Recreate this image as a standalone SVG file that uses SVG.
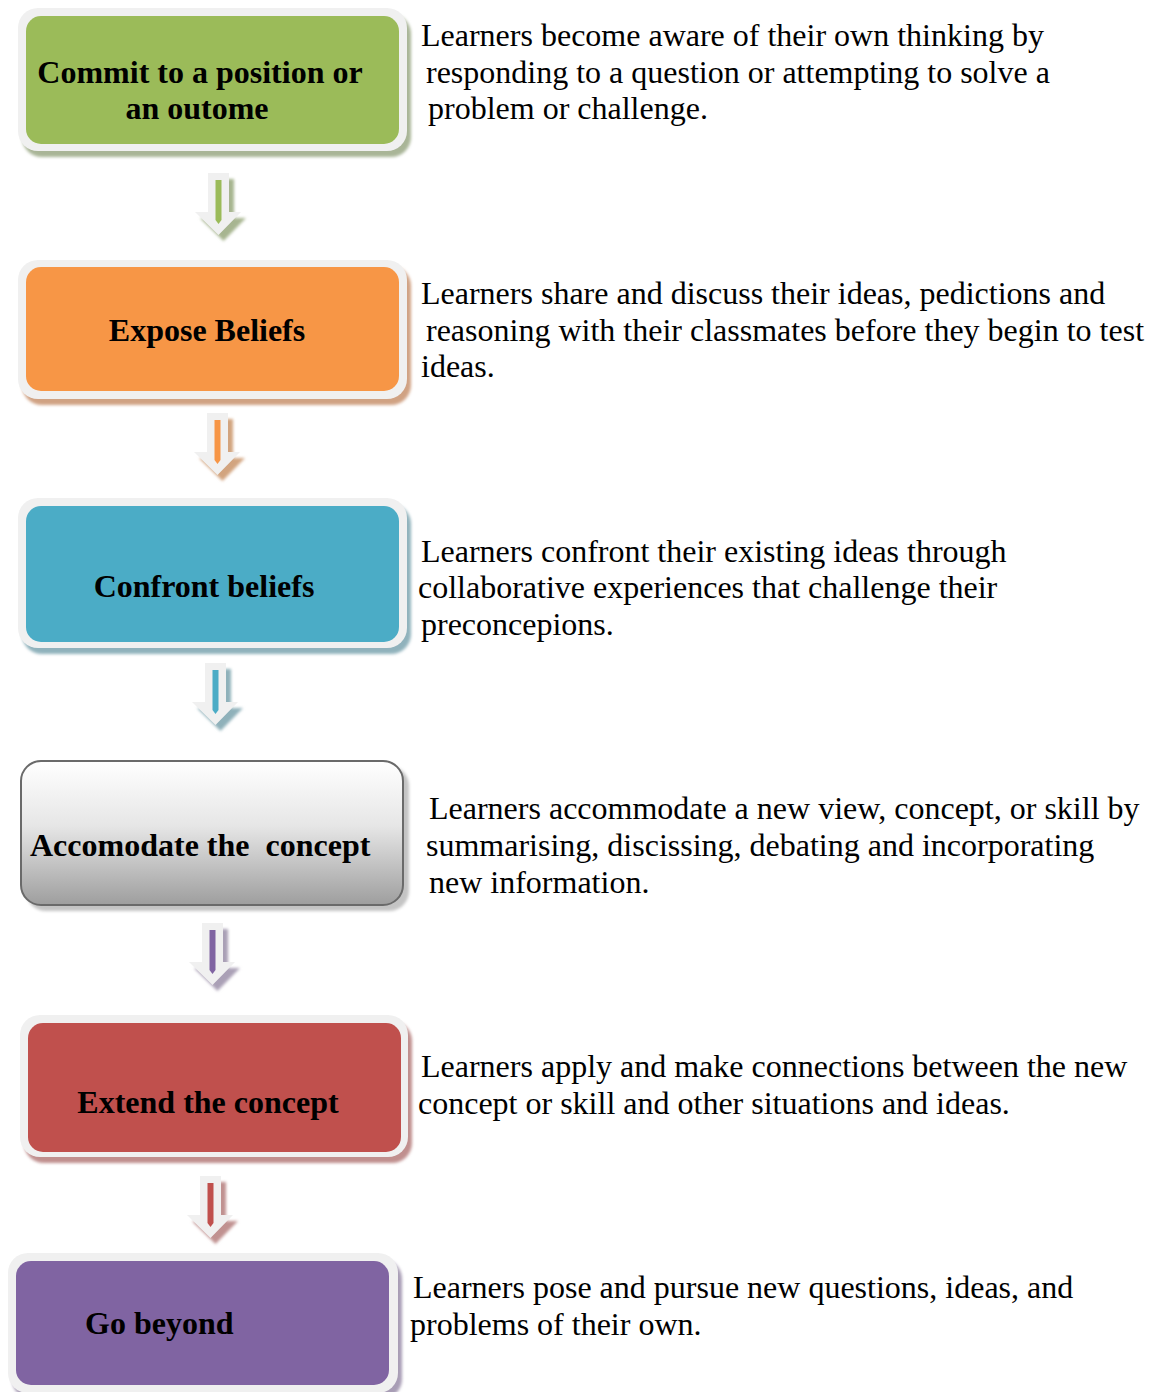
<svg xmlns="http://www.w3.org/2000/svg" width="1155" height="1392" viewBox="0 0 1155 1392">
  <defs>
    <style>
      .frame { fill: #f0f0f0; }
      .label { font-family: "Liberation Serif", "Times New Roman", serif; font-weight: bold; font-size: 32px; fill: #000; white-space: pre; }
      .desc { font-family: "Liberation Serif", "Times New Roman", serif; font-size: 32px; fill: #000; white-space: pre; }
      .arrow-body { fill: #f0f0f0; }
    </style>
    <linearGradient id="grayFill" x1="0" y1="0" x2="0" y2="1">
      <stop offset="0" stop-color="#ffffff"/>
      <stop offset="0.45" stop-color="#e6e6e6"/>
      <stop offset="1" stop-color="#9e9e9e"/>
    </linearGradient>
    <filter id="soft" x="-10%" y="-10%" width="120%" height="120%">
      <feGaussianBlur stdDeviation="1.5"/>
    </filter>
    <!-- hollow down arrow: outer outline, origin at top-left of the shaft -->
    <path id="arrowShape" d="M0,0 H21 V39 H33 L10.5,62 L-13,39 H0 Z"/>
    <path id="arrowCore" d="M7.5,7 H13.5 V47 L10.5,51 L7.5,47 Z"/>
  </defs>

  <!-- step boxes -->
  <g id="node-commit">
    <rect x="22" y="14" width="389" height="143" rx="20" fill="#a9b597" filter="url(#soft)"/>
    <rect class="frame" x="18" y="8" width="389" height="143" rx="20"/>
    <rect x="26" y="16" width="373" height="128" rx="15" fill="#9bbb59"/>
    <text class="label" x="200" y="83" text-anchor="middle">Commit to a position or</text>
    <text class="label" x="197" y="119" text-anchor="middle">an outome</text>
  </g>

  <g id="node-expose">
    <rect x="22" y="266" width="389" height="139" rx="20" fill="#d0a283" filter="url(#soft)"/>
    <rect class="frame" x="18" y="260" width="389" height="139" rx="20"/>
    <rect x="26" y="267" width="373" height="124" rx="15" fill="#f79646"/>
    <text class="label" x="207" y="341" text-anchor="middle">Expose Beliefs</text>
  </g>

  <g id="node-confront">
    <rect x="22" y="504" width="389" height="150" rx="20" fill="#90b2bc" filter="url(#soft)"/>
    <rect class="frame" x="18" y="498" width="389" height="150" rx="20"/>
    <rect x="26" y="506" width="373" height="136" rx="15" fill="#4bacc6"/>
    <text class="label" x="204" y="597" text-anchor="middle">Confront beliefs</text>
  </g>

  <g id="node-accommodate">
    <rect x="26" y="766" width="383" height="145" rx="20" fill="#c4c4c4" filter="url(#soft)"/>
    <rect x="21" y="761" width="382" height="144" rx="20" fill="url(#grayFill)" stroke="#6a6a6a" stroke-width="2"/>
    <text class="label" x="30" y="856">Accomodate the  concept</text>
  </g>

  <g id="node-extend">
    <rect x="24" y="1021" width="388" height="142" rx="20" fill="#c08f8e" filter="url(#soft)"/>
    <rect class="frame" x="20" y="1015" width="388" height="142" rx="20"/>
    <rect x="28" y="1023" width="373" height="129" rx="15" fill="#c0504d"/>
    <text class="label" x="208" y="1113" text-anchor="middle">Extend the concept</text>
  </g>

  <g id="node-beyond">
    <rect x="12" y="1259" width="390" height="140" rx="20" fill="#a89db5" filter="url(#soft)"/>
    <rect class="frame" x="8" y="1253" width="390" height="140" rx="20"/>
    <rect x="16" y="1261" width="373" height="124" rx="15" fill="#8064a2"/>
    <text class="label" x="85" y="1334">Go beyond</text>
  </g>

  <!-- descriptions beside each step -->
  <g id="desc-commit">
    <text class="desc" x="421" y="46">Learners become aware of their own thinking by</text>
    <text class="desc" x="426" y="83">responding to a question or attempting to solve a</text>
    <text class="desc" x="428" y="119">problem or challenge.</text>
  </g>
  <g id="desc-expose">
    <text class="desc" x="421" y="304">Learners share and discuss their ideas, pedictions and</text>
    <text class="desc" x="426" y="341">reasoning with their classmates before they begin to test</text>
    <text class="desc" x="421" y="377">ideas.</text>
  </g>
  <g id="desc-confront">
    <text class="desc" x="421" y="562">Learners confront their existing ideas through</text>
    <text class="desc" x="418" y="598">collaborative experiences that challenge their</text>
    <text class="desc" x="421" y="635">preconcepions.</text>
  </g>
  <g id="desc-accommodate">
    <text class="desc" x="429" y="819">Learners accommodate a new view, concept, or skill by</text>
    <text class="desc" x="426" y="856">summarising, discissing, debating and incorporating</text>
    <text class="desc" x="429" y="893">new information.</text>
  </g>
  <g id="desc-extend">
    <text class="desc" x="421" y="1077">Learners apply and make connections between the new</text>
    <text class="desc" x="418" y="1114">concept or skill and other situations and ideas.</text>
  </g>
  <g id="desc-beyond">
    <text class="desc" x="413" y="1298">Learners pose and pursue new questions, ideas, and</text>
    <text class="desc" x="410" y="1335">problems of their own.</text>
  </g>

  <!-- connectors: hollow down arrows between steps -->
  <g id="connectors">
    <g transform="translate(208,173)">
      <use href="#arrowShape" transform="translate(5,6)" fill="#a7b590" filter="url(#soft)"/>
      <use href="#arrowShape" class="arrow-body"/>
      <use href="#arrowCore" fill="#9bbb59"/>
    </g>
    <g transform="translate(207,413)">
      <use href="#arrowShape" transform="translate(5,6)" fill="#d2a47f" filter="url(#soft)"/>
      <use href="#arrowShape" class="arrow-body"/>
      <use href="#arrowCore" fill="#f79646"/>
    </g>
    <g transform="translate(205,663)">
      <use href="#arrowShape" transform="translate(5,6)" fill="#8fb1ba" filter="url(#soft)"/>
      <use href="#arrowShape" class="arrow-body"/>
      <use href="#arrowCore" fill="#4bacc6"/>
    </g>
    <g transform="translate(202,923)">
      <use href="#arrowShape" transform="translate(5,6)" fill="#aaa0b6" filter="url(#soft)"/>
      <use href="#arrowShape" class="arrow-body"/>
      <use href="#arrowCore" fill="#8064a2"/>
    </g>
    <g transform="translate(200,1176)">
      <use href="#arrowShape" transform="translate(5,6)" fill="#c09190" filter="url(#soft)"/>
      <use href="#arrowShape" class="arrow-body"/>
      <use href="#arrowCore" fill="#c0504d"/>
    </g>
  </g>
</svg>
